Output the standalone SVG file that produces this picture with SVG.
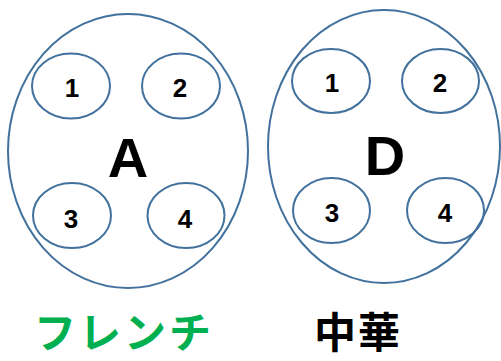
<svg xmlns="http://www.w3.org/2000/svg" width="501" height="361" viewBox="0 0 501 361">
<style>
.big{fill:#fff;stroke:#41719C;stroke-width:2}
.sm{fill:none;stroke:#41719C;stroke-width:2}
.num{font-family:"Liberation Sans",Arial,sans-serif;font-weight:bold;font-size:26px;text-anchor:middle;fill:#000}
.lbl{font-family:"Liberation Sans",Arial,sans-serif;font-weight:bold;font-size:56px;text-anchor:middle;fill:#000}
.jp{font-family:"Noto Sans CJK JP",sans-serif;font-weight:bold;font-size:42px}
</style>
<g id="nodeA">
<ellipse class="big" cx="128" cy="151" rx="120" ry="137"/>
<ellipse class="sm" cx="71" cy="86" rx="39" ry="32.5"/>
<ellipse class="sm" cx="181" cy="86" rx="39" ry="32.5"/>
<ellipse class="sm" cx="72" cy="215.5" rx="39" ry="32.5"/>
<ellipse class="sm" cx="186" cy="215.5" rx="38.5" ry="32.5"/>
<text class="num" x="72" y="97">1</text>
<text class="num" x="180" y="97">2</text>
<text class="num" x="71" y="228">3</text>
<text class="num" x="185" y="228">4</text>
<text class="lbl" x="128" y="177">A</text>
</g>
<g id="nodeD">
<ellipse class="big" cx="384" cy="146.5" rx="116" ry="136.5"/>
<ellipse class="sm" cx="331" cy="81" rx="39" ry="32"/>
<ellipse class="sm" cx="440.5" cy="81" rx="38.5" ry="32"/>
<ellipse class="sm" cx="331.5" cy="210.5" rx="38.5" ry="32.5"/>
<ellipse class="sm" cx="445.5" cy="210.5" rx="38.5" ry="32.5"/>
<text class="num" x="332" y="92">1</text>
<text class="num" x="440" y="92">2</text>
<text class="num" x="332" y="222">3</text>
<text class="num" x="445" y="222">4</text>
<text class="lbl" x="385" y="175">D</text>
</g>
<g id="connectors"/>
<text class="jp" x="34" y="348" fill="#00B050" letter-spacing="3">フレンチ</text>
<text class="jp" x="314" y="348" fill="#000" letter-spacing="2">中華</text>
</svg>
